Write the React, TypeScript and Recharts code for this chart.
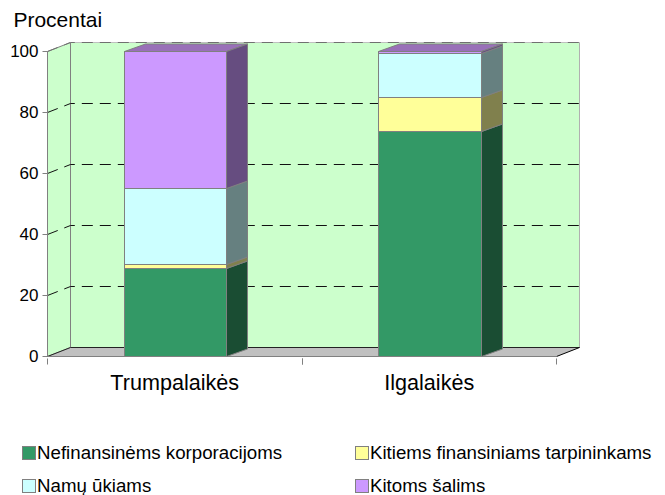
import { BarChart, Bar, XAxis, YAxis, ReferenceArea, ReferenceLine, Legend } from 'recharts';

const categories = ['Trumpalaikės', 'Ilgalaikės'];
const nefinansinems = [29, 73.8];
const kitiemsFinansiniams = [1.2, 11.2];
const namuUkiams = [24.8, 14.3];
const kitomsSalims = [45, 0.7];
const yTicks = [0, 20, 40, 60, 80, 100];

const data = categories.map((name, i) => ({
    name,
    nefinansinems: nefinansinems[i],
    kitiemsFinansiniams: kitiemsFinansiniams[i],
    namuUkiams: namuUkiams[i],
    kitomsSalims: kitomsSalims[i],
}));

const FONT = '"Liberation Sans", Arial, sans-serif';
const EDGE = '#808080';
// depth of the fake 3D box, back wall and bars
const WALL_DX = 23;
const WALL_DY = 9;
const BAR_DX = 21;
const BAR_DY = 7.5;

// keep 1px edges on the pixel grid
const snapRound = (v: number) => Math.round(v) + 0.5;
const snapFloor = (v: number) => Math.floor(v) + 0.5;

const barShape = (side: string, top: string) => (props: any) => {
    const x = snapRound(props.x);
    const r = snapRound(props.x + props.width);
    const y = snapFloor(props.y);
    const b = snapFloor(props.y + props.height);
    return (
        <g stroke={EDGE} strokeWidth={1}>
            <polygon points={`${x},${y} ${r},${y} ${r + BAR_DX},${y - BAR_DY} ${x + BAR_DX},${y - BAR_DY}`} fill={top} />
            <polygon points={`${r},${y} ${r + BAR_DX},${y - BAR_DY} ${r + BAR_DX},${b - BAR_DY} ${r},${b}`} fill={side} />
            <rect x={x} y={y} width={r - x} height={b - y} fill={props.fill} />
        </g>
    );
};

function Walls(props: any) {
    const { x, y, width, height } = props;
    const r = x + width;
    const b = y + height;
    const backX = x + WALL_DX;
    const backTop = y - WALL_DY;
    const backBottom = b - WALL_DY;
    return (
        <g>
            <rect x={backX} y={backTop} width={width} height={height} fill="#CCFFCC" />
            <polygon
                points={`${x},${y} ${backX},${backTop} ${backX},${backBottom} ${x},${b}`}
                fill="#CCFFCC"
                stroke={EDGE}
            />
            <line x1={backX} y1={backTop} x2={r + WALL_DX} y2={backTop} stroke="#C0C0C0" />
            <line x1={r + WALL_DX} y1={backTop} x2={r + WALL_DX} y2={backBottom} stroke="#B0B0B0" />
            <polygon
                points={`${x},${b} ${backX},${backBottom} ${r + WALL_DX},${backBottom} ${r},${b}`}
                fill="#C0C0C0"
                stroke="none"
            />
            <line x1={x} y1={b} x2={backX} y2={backBottom} stroke="#222" />
            <line x1={backX} y1={backBottom} x2={r + WALL_DX} y2={backBottom} stroke="#222" />
            <line x1={r} y1={b} x2={r + WALL_DX} y2={backBottom} stroke="#000" />
            <line x1={x} y1={b} x2={r} y2={b} stroke={EDGE} />
        </g>
    );
}

function GridLine(props: any) {
    const { x1, y1, x2, y2, color } = props;
    return (
        <polyline
            points={`${x1},${y1} ${x1 + WALL_DX},${y1 - WALL_DY} ${x2 + WALL_DX},${y2 - WALL_DY}`}
            fill="none"
            stroke={color}
            strokeDasharray="11 7"
        />
    );
}

function CategoryTick(props: any) {
    const { x, y, payload } = props;
    const half = 127.25;
    return (
        <g>
            <line x1={snapFloor(x - half)} y1={y} x2={snapFloor(x - half)} y2={y + 6} stroke={EDGE} />
            <line x1={snapFloor(x + half)} y1={y} x2={snapFloor(x + half)} y2={y + 6} stroke={EDGE} />
            <text x={x} y={y + 31.5} textAnchor="middle" fontSize={21.6} fontFamily={FONT} fill="#000">
                {payload.value}
            </text>
        </g>
    );
}

function LegendGrid({ payload }: any) {
    const spots = [
        { left: 22, top: 0 },
        { left: 355, top: 0 },
        { left: 22, top: 33 },
        { left: 355, top: 33 },
    ];
    return (
        <div style={{ position: 'relative', width: 665, height: 50 }}>
            {(payload || []).map((entry: any, i: number) => (
                <div
                    key={entry.value}
                    style={{
                        position: 'absolute',
                        left: spots[i].left,
                        top: spots[i].top,
                        display: 'flex',
                        alignItems: 'center',
                        height: 14,
                        whiteSpace: 'nowrap',
                        fontFamily: FONT,
                        fontSize: 18.7,
                        color: '#000',
                    }}
                >
                    <span
                        style={{
                            width: 12,
                            height: 12,
                            background: entry.color,
                            border: `1px solid ${EDGE}`,
                            marginRight: 1,
                        }}
                    />
                    {entry.value}
                </div>
            ))}
        </div>
    );
}

export default function App() {
    return (
        <div style={{ position: 'absolute', left: 0, top: 0 }}>
            <BarChart
                width={665}
                height={495}
                data={data}
                barSize={102.5}
                margin={{ top: 51.5, right: 108.5, left: 0, bottom: 0 }}
            >
                <XAxis
                    dataKey="name"
                    height={138.5}
                    axisLine={false}
                    tickLine={false}
                    tickSize={0}
                    interval={0}
                    tick={<CategoryTick />}
                />
                <YAxis
                    width={47.5}
                    type="number"
                    domain={[0, 100]}
                    ticks={yTicks}
                    interval={0}
                    stroke={EDGE}
                    tickSize={5}
                    tickMargin={4}
                    tick={{ fontSize: 17, fontFamily: FONT, fill: '#000', dy: -1 }}
                    label={{
                        value: 'Procentai',
                        position: 'top',
                        dx: 34,
                        dy: -20,
                        fontSize: 21,
                        fontFamily: FONT,
                        fill: '#000',
                    }}
                />
                <ReferenceArea y1={0} y2={100} shape={<Walls />} />
                {yTicks.slice(1).map((t) => (
                    <ReferenceLine key={t} y={t} zIndex={100} shape={<GridLine color={t === 100 ? '#707070' : '#111'} />} />
                ))}
                <Legend
                    layout="horizontal"
                    verticalAlign="middle"
                    width={665}
                    itemSorter={null}
                    wrapperStyle={{ position: 'absolute', left: 0, top: 445.5 }}
                    content={<LegendGrid />}
                />
                <Bar dataKey="nefinansinems" name="Nefinansinėms korporacijoms" stackId="a" fill="#339966" isAnimationActive={false} shape={barShape('#1A4D33', '#1A4D33')} />
                <Bar dataKey="kitiemsFinansiniams" name="Kitiems finansiniams tarpininkams" stackId="a" fill="#FFFF99" isAnimationActive={false} shape={barShape('#80804D', '#80804D')} />
                <Bar dataKey="namuUkiams" name="Namų ūkiams" stackId="a" fill="#CCFFFF" isAnimationActive={false} shape={barShape('#668080', '#668080')} />
                <Bar dataKey="kitomsSalims" name="Kitoms šalims" stackId="a" fill="#CC99FF" isAnimationActive={false} shape={barShape('#664D80', '#9970B8')} />
            </BarChart>
        </div>
    );
}
